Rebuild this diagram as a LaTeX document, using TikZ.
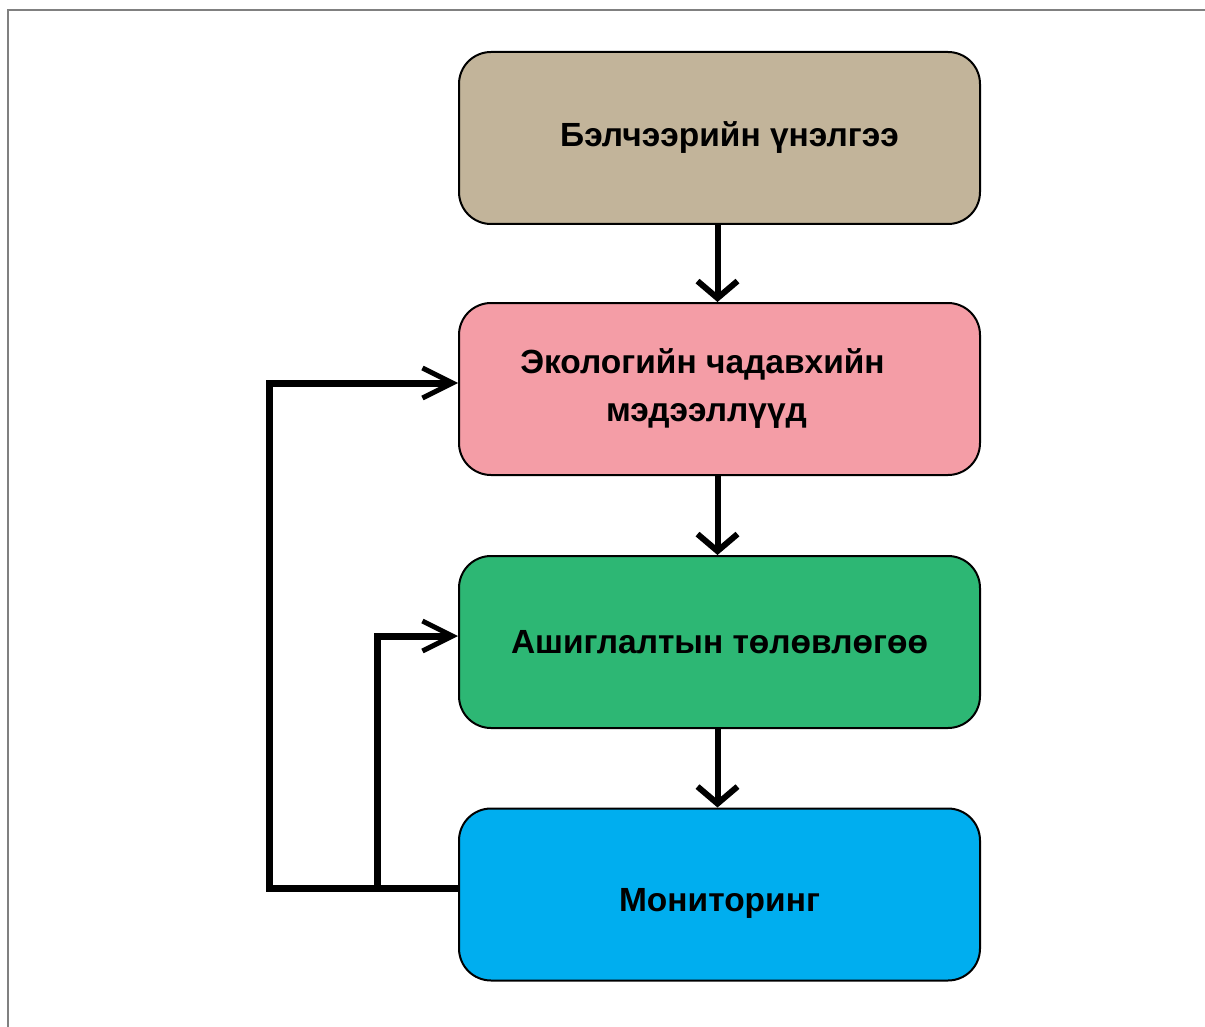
\documentclass[tikz,border=0pt]{standalone}
\usepackage{fontspec}
\setmainfont{Liberation Sans}
\usetikzlibrary{arrows.meta}
\definecolor{cTan}{HTML}{C2B49A}
\definecolor{cPink}{HTML}{F49DA6}
\definecolor{cGreen}{HTML}{2DB774}
\definecolor{cBlue}{HTML}{00AEEF}
\tikzset{
  box/.style={draw=black, line width=2pt, rounded corners=32pt, minimum width=521pt, minimum height=172pt,
    inner sep=0pt, align=center, font=\fontsize{33.5}{48}\selectfont\bfseries, text=black},
  down/.style={line width=6pt, -{Straight Barb[length=17pt,width=40pt,line width=6pt]}},
  fb/.style={line width=7pt, line join=miter, -{Straight Barb[length=30pt,width=30pt,line width=5pt]}}
}
\begin{document}
\begin{tikzpicture}[x=1pt,y=-1pt]
\useasboundingbox (0,0) rectangle (1205,1027);
\draw[gray, line width=1.5pt] (1205,10) -- (8,10) -- (8,1027);
\node[box, fill=cTan]   (b1) at (719.5,138)   {\hspace*{20pt}Бэлчээрийн үнэлгээ};
\node[box, fill=cPink]  (b2) at (719.5,389)   {Экологийн чадавхийн\hspace*{34pt}\\мэдээллүүд\hspace*{26pt}};
\node[box, fill=cGreen] (b3) at (719.5,642)   {Ашиглалтын төлөвлөгөө};
\node[box, fill=cBlue]  (b4) at (719.5,894.5) {\smash{\raisebox{-9pt}{Мониторинг}}\vphantom{Мониторинг}};
\draw[down] ([xshift=-2pt]b1.south) -- ([xshift=-2pt]b2.north);
\draw[down] ([xshift=-2pt]b2.south) -- ([xshift=-2pt]b3.north);
\draw[down] ([xshift=-2pt]b3.south) -- ([xshift=-2pt]b4.north);
\draw[fb] ([yshift=6pt]b4.west) -- ++(-189,0) |- ([yshift=6pt]b2.west);
\draw[fb] ([yshift=6pt]b4.west) -- ++(-81,0) |- ([yshift=6pt]b3.west);
\end{tikzpicture}
\end{document}
